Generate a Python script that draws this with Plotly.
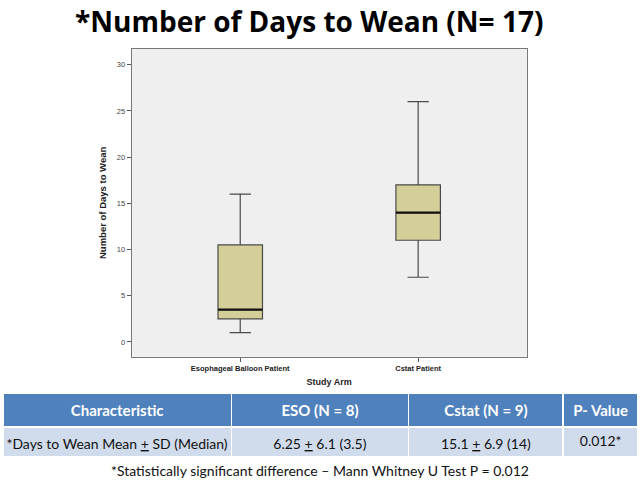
import plotly.graph_objects as go

categories = ["Esophageal Balloon Patient", "Cstat Patient"]
lower_whisker = [1, 7]
q1 = [2.5, 11]
median = [3.5, 14]
q3 = [10.5, 17]
upper_whisker = [16, 26]

y_ticks = [0, 5, 10, 15, 20, 25, 30]

table_header = ["Characteristic", "ESO (N = 8)", "Cstat (N = 9)", "P- Value"]
table_row = ["*Days to Wean Mean <u>+</u> SD (Median)", "6.25 <u>+</u> 6.1 (3.5)", "15.1 <u>+</u> 6.9 (14)", "0.012*"]
col_widths = [229, 178, 155, 75]


def nowrap(s):
    return s.replace(" ", "\u00a0")


W, H = 641, 482
fig = go.Figure()

xs = list(range(len(categories)))
fig.add_trace(go.Box(
    x=xs, q1=q1, median=median, q3=q3,
    lowerfence=lower_whisker, upperfence=upper_whisker,
    fillcolor="#D4CF99", line=dict(color="#4a4a4a", width=1.2),
    width=0.25, whiskerwidth=0.48, boxpoints=False, showlegend=False,
    hoverinfo="skip",
))

for i, m in enumerate(median):
    fig.add_shape(type="line", xref="x", yref="y",
                  x0=xs[i] - 0.125, x1=xs[i] + 0.125, y0=m, y1=m,
                  line=dict(color="#111111", width=2.2))

fig.add_trace(go.Table(
    domain=dict(x=[3 / W, 638 / W], y=[1 - 457 / H, 1 - 393 / H]),
    columnwidth=col_widths,
    header=dict(values=[f"<b>{nowrap(h)}</b>" for h in table_header],
                fill_color="#4F81BD", line=dict(color="white", width=1.5),
                font=dict(color="white", size=15, family="Lato"),
                align="center", height=30),
    cells=dict(values=[[nowrap(v).replace("<u>", "<u>").replace("\u00a0", "\u00a0")] for v in table_row],
               fill_color="#D0DCEB", line=dict(color="white", width=1.5),
               font=dict(color="#111111", size=14, family="Lato"),
               align="center", height=33),
))

fig.update_layout(
    width=W, height=H,
    margin=dict(l=0, r=0, t=0, b=0),
    paper_bgcolor="white",
    plot_bgcolor="#EFEFEF",
    xaxis=dict(domain=[131.7 / W, 526.7 / W], range=[-0.61, 1.61],
               tickvals=xs, ticktext=[f"<b>{c}</b>" for c in categories],
               ticks="outside", ticklen=4, tickcolor="#555",
               showline=True, linecolor="#777", mirror=True, showgrid=False,
               zeroline=False,
               tickfont=dict(family="Liberation Sans", size=7.5, color="#222"),
               title=dict(text="<b>Study Arm</b>", standoff=6,
                          font=dict(family="Liberation Sans", size=9, color="#222"))),
    yaxis=dict(domain=[1 - 356.7 / H, 1 - 49 / H], range=[-1.6, 31.7],
               tickvals=y_ticks, ticks="outside", ticklen=4, tickcolor="#555",
               showline=True, linecolor="#777", mirror=True, showgrid=False,
               zeroline=False,
               tickfont=dict(family="Liberation Sans", size=7.5, color="#444"),
               title=dict(text="<b>Number of Days to Wean</b>", standoff=8,
                          font=dict(family="Liberation Sans", size=9.5, color="#222"))),
    annotations=[
        dict(text="<b>*Number of Days to Wean (N= 17)</b>", x=309 / W, y=1 - 21 / H,
             xref="paper", yref="paper", showarrow=False,
             xanchor="center", yanchor="middle",
             font=dict(family="Open Sans", size=28, color="black")),
        dict(text="*Statistically significant difference \u2013 Mann Whitney U Test P = 0.012",
             x=320 / W, y=1 - 470 / H, xref="paper", yref="paper", showarrow=False,
             xanchor="center", yanchor="middle",
             font=dict(family="Lato", size=14, color="#111")),
    ],
)

fig.write_html("out.html", config={"displayModeBar": False},
               post_script="document.body.style.margin='0';document.body.style.overflow='hidden';")
